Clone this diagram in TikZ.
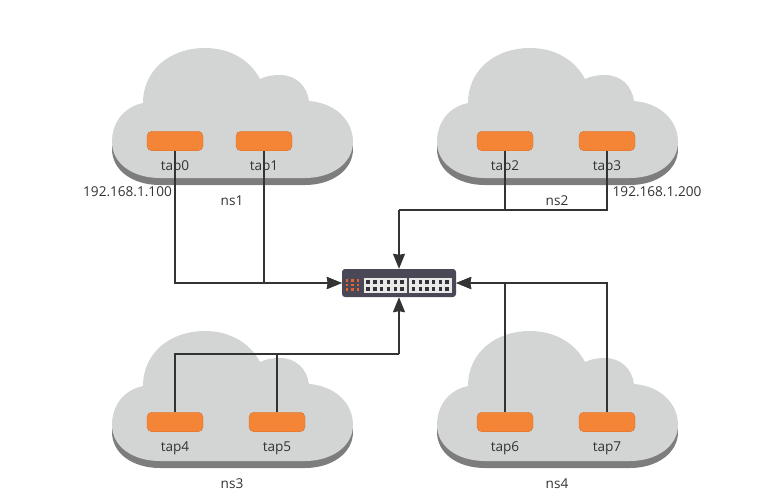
\documentclass[tikz,border=0pt]{standalone}
\usepackage{fontspec}
\setmainfont{Open Sans}
\usepackage{xcolor}
\usetikzlibrary{arrows.meta}
\definecolor{cloudgray}{RGB}{211,213,212}
\definecolor{clouddark}{RGB}{125,125,125}
\definecolor{taporange}{RGB}{245,133,54}
\definecolor{tapedge}{RGB}{210,110,45}
\definecolor{linedark}{RGB}{51,51,51}
\definecolor{switchbody}{RGB}{74,72,86}
\definecolor{switchpanel}{RGB}{232,232,230}
\definecolor{switchport}{RGB}{50,50,60}
\definecolor{switchled}{RGB}{226,100,48}

\newcommand{\cloudoutline}{
  (143,103) .. controls (143,70) and (170,48) .. (205,48)
  .. controls (230,48) and (250,60) .. (260,79)
  .. controls (266,76) and (273,75) .. (280,75)
  .. controls (296,75) and (307,86) .. (309,101)
  .. controls (335,103) and (353,120) .. (353,142)
  .. controls (353,163) and (332,178) .. (305,178)
  -- (160,178)
  .. controls (132,178) and (112,163) .. (112,142)
  .. controls (112,122) and (124,107) .. (143,103) -- cycle
}

\begin{document}
\begin{tikzpicture}[
  x=1pt, y=-1pt,
  cloudpic/.pic={
    \fill[clouddark, yshift=-7pt] \cloudoutline;
    \fill[cloudgray] \cloudoutline;
  },
  tapnode/.style={rectangle, rounded corners=5pt, fill=taporange, draw=tapedge,
    line width=0.4pt, minimum width=56pt, minimum height=19.5pt, inner sep=0pt},
  txt/.style={font=\fontsize{13.6}{16}\selectfont, text=linedark, inner sep=0pt},
  arr/.style={-{Stealth[length=15pt,width=12pt,inset=1pt]}, linedark, line width=1.6pt},
  wire/.style={linedark, line width=1.6pt}
]
\useasboundingbox (0,0) rectangle (770,500);

% four clouds
\pic at (0,0) {cloudpic};
\pic at (325,0) {cloudpic};
\pic at (0,283) {cloudpic};
\pic at (325,283) {cloudpic};

% taps
\node[tapnode] (tap0) at (175,141) {};
\node[tapnode] (tap1) at (264,141) {};
\node[tapnode] (tap2) at (505,141) {};
\node[tapnode] (tap3) at (607,141) {};
\node[tapnode] (tap4) at (175,422) {};
\node[tapnode] (tap5) at (277,422) {};
\node[tapnode] (tap6) at (505,422) {};
\node[tapnode] (tap7) at (607,422) {};

% labels
\node[txt] (lab0) at (175,167) {tap0};
\node[txt] (lab1) at (264,167) {tap1};
\node[txt] (lab2) at (505,167) {tap2};
\node[txt] (lab3) at (607,167) {tap3};
\node[txt] (lab4) at (175,448) {tap4};
\node[txt] (lab5) at (277,448) {tap5};
\node[txt] (lab6) at (505,448) {tap6};
\node[txt] (lab7) at (607,448) {tap7};
\node[txt] (ns1) at (232,201) {ns1};
\node[txt] (ns2) at (557,201) {ns2};
\node[txt] (ns3) at (232,484) {ns3};
\node[txt] (ns4) at (557,484) {ns4};
\node[txt] (ip1) at (127.5,192) {192.168.1.100};
\node[txt] (ip2) at (657,192) {192.168.1.200};

% switch
\node[rectangle, rounded corners=3pt, fill=switchbody, minimum width=114pt,
  minimum height=28pt, inner sep=0pt] (switch) at (399,283) {};
\fill[switchpanel] (364,278) rectangle (407,293);
\fill[switchpanel] (409,278) rectangle (452,293);
\foreach \px in {368,374.8,381.6,388.4,395.2,402,413.5,420.2,426.9,433.6,440.3,447}
  \foreach \py in {282,289}
    \fill[switchport] (\px-1.7,\py-2) rectangle (\px+1.7,\py+2);
\foreach \px in {347,352.5,358}
  \foreach \py in {280.5,285,289.5}
    \fill[switchled] (\px-1.3,\py-1.3) rectangle (\px+1.3,\py+1.3);

% wires into the switch
\coordinate (top) at (399,210);
\coordinate (bot) at (399,354);
\draw[arr] (tap0.south) |- (switch.west);
\draw[arr] (tap1.south) |- (switch.west);
\draw[wire] (tap2.south) |- (top);
\draw[wire] (tap3.south) |- (top);
\draw[arr] (top) -- (switch.north);
\draw[wire] (tap4.north) |- (bot);
\draw[wire] (tap5.north) |- (bot);
\draw[arr] (bot) -- (switch.south);
\draw[arr] (tap6.north) |- (switch.east);
\draw[arr] (tap7.north) |- (switch.east);

\end{tikzpicture}
\end{document}
